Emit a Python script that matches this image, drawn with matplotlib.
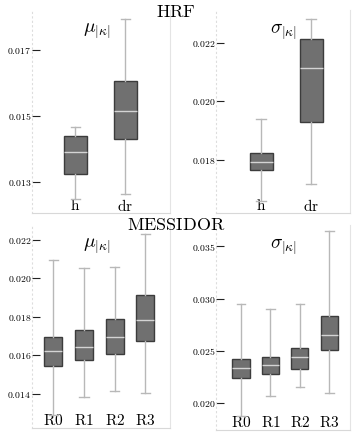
import matplotlib
matplotlib.use("Agg")
import matplotlib.pyplot as plt
from matplotlib.ticker import FuncFormatter

plt.rcParams["mathtext.fontset"] = "cm"
plt.rcParams["font.family"] = ["DejaVu Serif"]

# HRF: h vs dr
hrf_labels = ["h", "dr"]
hrf_mu_whislo = [0.01249, 0.01264]
hrf_mu_q1 = [0.01324, 0.01430]
hrf_mu_med = [0.01391, 0.01515]
hrf_mu_q3 = [0.01440, 0.01606]
hrf_mu_whishi = [0.01467, 0.01794]

hrf_sd_whislo = [0.01659, 0.01717]
hrf_sd_q1 = [0.01766, 0.01928]
hrf_sd_med = [0.01793, 0.02114]
hrf_sd_q3 = [0.01824, 0.02214]
hrf_sd_whishi = [0.01941, 0.02283]

# MESSIDOR: R0..R3
mes_labels = ["R0", "R1", "R2", "R3"]
mes_mu_whislo = [0.01291, 0.01381, 0.01416, 0.01405]
mes_mu_q1 = [0.01543, 0.01577, 0.01607, 0.01673]
mes_mu_med = [0.01621, 0.01642, 0.01694, 0.01784]
mes_mu_q3 = [0.01694, 0.01734, 0.01790, 0.01913]
mes_mu_whishi = [0.02096, 0.02053, 0.02058, 0.02229]

mes_sd_whislo = [0.01870, 0.02065, 0.02149, 0.02097]
mes_sd_q1 = [0.02240, 0.02273, 0.02325, 0.02506]
mes_sd_med = [0.02334, 0.02360, 0.02435, 0.02653]
mes_sd_q3 = [0.02422, 0.02435, 0.02529, 0.02831]
mes_sd_whishi = [0.02945, 0.02903, 0.02950, 0.03646]

hrf_mu_ticks = [0.013, 0.015, 0.017]
hrf_sd_ticks = [0.018, 0.020, 0.022]
mes_mu_ticks = [0.014, 0.016, 0.018, 0.020, 0.022]
mes_sd_ticks = [0.020, 0.025, 0.030, 0.035]

BOX_FACE = "#707070"
BOX_EDGE = "#3c3c3c"
WHISK = "#b8b8b8"
MED = "#d4d4d4"


def make_stats(labels, lo, q1, med, q3, hi):
    return [dict(label=l, whislo=a, q1=b, med=c, q3=d, whishi=e)
            for l, a, b, c, d, e in zip(labels, lo, q1, med, q3, hi)]


def draw_panel(ax, stats, ticks, ylim, xlim, width, capw, title, title_x):
    ax.bxp(stats, positions=range(len(stats)), widths=width, patch_artist=True,
           showfliers=False, capwidths=capw,
           boxprops=dict(facecolor=BOX_FACE, edgecolor=BOX_EDGE, linewidth=1.0),
           whiskerprops=dict(color=WHISK, linewidth=1.0),
           capprops=dict(color=WHISK, linewidth=1.0),
           medianprops=dict(color=MED, linewidth=1.0))
    ax.set_xlim(*xlim)
    ax.set_ylim(*ylim)
    ax.set_yticks(ticks)
    ax.yaxis.set_major_formatter(FuncFormatter(lambda v, p: r"$%.3f$" % v))
    ax.set_xticks(range(len(stats)))
    ax.set_xticklabels([r"$\mathrm{%s}$" % s["label"] for s in stats])
    ax.tick_params(axis="y", direction="in", length=6, width=0.8, pad=0.5,
                   labelsize=7, color="#222222")
    ax.tick_params(axis="x", length=0, pad=-11, labelsize=11)
    ax.spines["top"].set_visible(False)
    ax.spines["left"].set_linestyle((0, (1, 3)))
    ax.spines["left"].set_color("#dddddd")
    ax.spines["left"].set_linewidth(0.8)
    ax.spines["right"].set_color("#e4e4e4")
    ax.spines["right"].set_linewidth(0.8)
    ax.spines["bottom"].set_color("#d8d8d8")
    ax.spines["bottom"].set_linewidth(0.8)
    ax.text(title_x, 0.895, title, transform=ax.transAxes, ha="center",
            va="center", fontsize=14)


fig = plt.figure(figsize=(3.53, 4.37), dpi=100)
W, H = 353.0, 437.0

ax1 = fig.add_axes([32 / W, (H - 213) / H, 138 / W, 203 / H])
ax2 = fig.add_axes([216 / W, (H - 213) / H, 134 / W, 203 / H])
ax3 = fig.add_axes([32 / W, (H - 428) / H, 138 / W, 203 / H])
ax4 = fig.add_axes([216 / W, (H - 430) / H, 134 / W, 205 / H])

draw_panel(ax1, make_stats(hrf_labels, hrf_mu_whislo, hrf_mu_q1, hrf_mu_med,
                           hrf_mu_q3, hrf_mu_whishi),
           hrf_mu_ticks, (0.01206, 0.01821), (-0.86, 1.9), 0.46, 0.18,
           r"$\mu_{|\kappa|}$", 0.47)
draw_panel(ax2, make_stats(hrf_labels, hrf_sd_whislo, hrf_sd_q1, hrf_sd_med,
                           hrf_sd_q3, hrf_sd_whishi),
           hrf_sd_ticks, (0.01617, 0.02314), (-0.9, 1.78), 0.46, 0.2,
           r"$\sigma_{|\kappa|}$", 0.5)
draw_panel(ax3, make_stats(mes_labels, mes_mu_whislo, mes_mu_q1, mes_mu_med,
                           mes_mu_q3, mes_mu_whishi),
           mes_mu_ticks, (0.01222, 0.02278), (-0.69, 3.8), 0.58, 0.3,
           r"$\mu_{|\kappa|}$", 0.47)
draw_panel(ax4, make_stats(mes_labels, mes_sd_whislo, mes_sd_q1, mes_sd_med,
                           mes_sd_q3, mes_sd_whishi),
           mes_sd_ticks, (0.0174, 0.03705), (-0.85, 3.7), 0.58, 0.3,
           r"$\sigma_{|\kappa|}$", 0.5)

fig.text(176 / W, 1 - 12 / H, r"$\mathrm{HRF}$", ha="center", va="center",
         fontsize=13)
fig.text(176 / W, 1 - 225 / H, r"$\mathrm{MESSIDOR}$", ha="center",
         va="center", fontsize=13)

fig.savefig("out.png", dpi=100)
